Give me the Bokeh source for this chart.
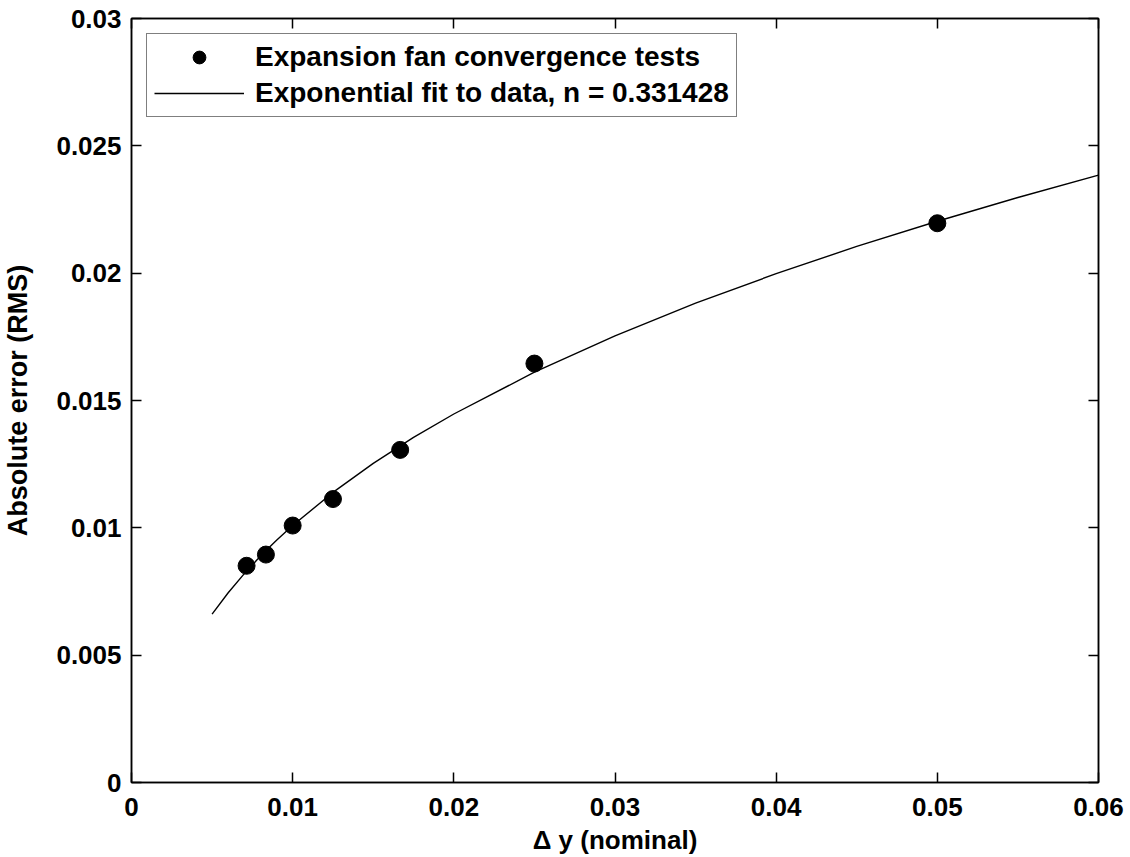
from bokeh.plotting import figure
from bokeh.models import (Range1d, FixedTicker, LinearAxis, Legend, LegendItem)
from bokeh.embed import file_html
from bokeh.resources import INLINE

# Data
dy_tests = [0.00714, 0.00834, 0.01000, 0.01250, 0.01667, 0.02500, 0.05000]
err_tests = [0.00851, 0.00895, 0.01009, 0.01113, 0.01306, 0.01645, 0.02196]

dy_fit = [0.005, 0.006, 0.007, 0.008, 0.009, 0.010, 0.0125, 0.015, 0.0175,
          0.020, 0.025, 0.030, 0.035, 0.040, 0.045, 0.050, 0.055, 0.060]
err_fit = [0.00661, 0.00745, 0.00820, 0.00889, 0.00951, 0.01009, 0.01139,
           0.01253, 0.01355, 0.01447, 0.01611, 0.01754, 0.01882, 0.01998,
           0.02105, 0.02204, 0.02297, 0.02385]

x_ticks = [0, 0.01, 0.02, 0.03, 0.04, 0.05, 0.06]
x_tick_labels = ["0", "0.01", "0.02", "0.03", "0.04", "0.05", "0.06"]
y_ticks = [0, 0.005, 0.01, 0.015, 0.02, 0.025, 0.03]
y_tick_labels = ["0", "0.005", "0.01", "0.015", "0.02", "0.025", "0.03"]

label_data = "Expansion fan convergence tests"
label_fit = "Exponential fit to data, n = 0.331428"
x_title = "\u0394 y (nominal)"
y_title = "Absolute error (RMS)"

FONT = "Liberation Sans"

p = figure(width=1130, height=857, output_backend="svg", toolbar_location=None,
           x_range=Range1d(0, 0.06), y_range=Range1d(0, 0.03),
           min_border_left=131, min_border_right=32, min_border_top=18,
           min_border_bottom=75, x_axis_label=x_title, y_axis_label=y_title)
p.xgrid.visible = False
p.ygrid.visible = False
p.outline_line_color = "black"
p.outline_line_width = 1.5
p.background_fill_color = "white"
p.border_fill_color = "white"

fit_r = p.line(dy_fit, err_fit, line_color="black", line_width=1.4)
pts_r = p.scatter(dy_tests, err_tests, size=17, fill_color="black", line_color="black")


def style_axis(ax, ticks, labels, show_labels=True):
    ax.ticker = FixedTicker(ticks=ticks)
    ax.major_label_overrides = {t: l for t, l in zip(ticks, labels)}
    ax.major_tick_in = 10
    ax.major_tick_out = 0
    ax.minor_tick_in = 0
    ax.minor_tick_out = 0
    ax.major_tick_line_color = "black"
    ax.major_tick_line_width = 1.5
    ax.axis_line_color = "black"
    ax.axis_line_width = 1.5
    ax.major_label_text_font = FONT
    ax.major_label_text_font_style = "bold"
    ax.major_label_text_font_size = "26px"
    ax.major_label_text_color = "black"
    ax.axis_label_text_font = FONT
    ax.axis_label_text_font_style = "bold"
    ax.axis_label_text_font_size = "26px"
    ax.axis_label_text_color = "black"
    if not show_labels:
        ax.major_label_text_alpha = 0
        ax.major_label_text_font_size = "1px"


style_axis(p.xaxis[0], x_ticks, x_tick_labels)
style_axis(p.yaxis[0], y_ticks, y_tick_labels)
p.xaxis[0].major_label_standoff = 15
p.xaxis[0].axis_label_standoff = 6
p.yaxis[0].major_label_standoff = 10
p.yaxis[0].axis_label_standoff = 20
p.yaxis[0].axis_label_text_font_size = "27px"

top_ax = LinearAxis()
right_ax = LinearAxis()
style_axis(top_ax, x_ticks, x_tick_labels, show_labels=False)
style_axis(right_ax, y_ticks, y_tick_labels, show_labels=False)
top_ax.major_label_standoff = 0
right_ax.major_label_standoff = 0
p.add_layout(top_ax, "above")
p.add_layout(right_ax, "right")

legend = Legend(items=[LegendItem(label=label_data, renderers=[pts_r]),
                       LegendItem(label=label_fit, renderers=[fit_r])],
                location="top_left")
legend.label_text_font = FONT
legend.label_text_font_style = "bold"
legend.label_text_font_size = "28px"
legend.label_text_color = "black"
legend.glyph_width = 90
legend.glyph_height = 32
legend.label_height = 32
legend.label_standoff = 11
legend.spacing = 4
legend.padding = 7
legend.margin = 15
legend.border_line_color = "black"
legend.border_line_width = 1.6
legend.background_fill_color = "white"
legend.background_fill_alpha = 1.0
p.add_layout(legend, "center")

open("out.html", "w").write(file_html(p, INLINE))
